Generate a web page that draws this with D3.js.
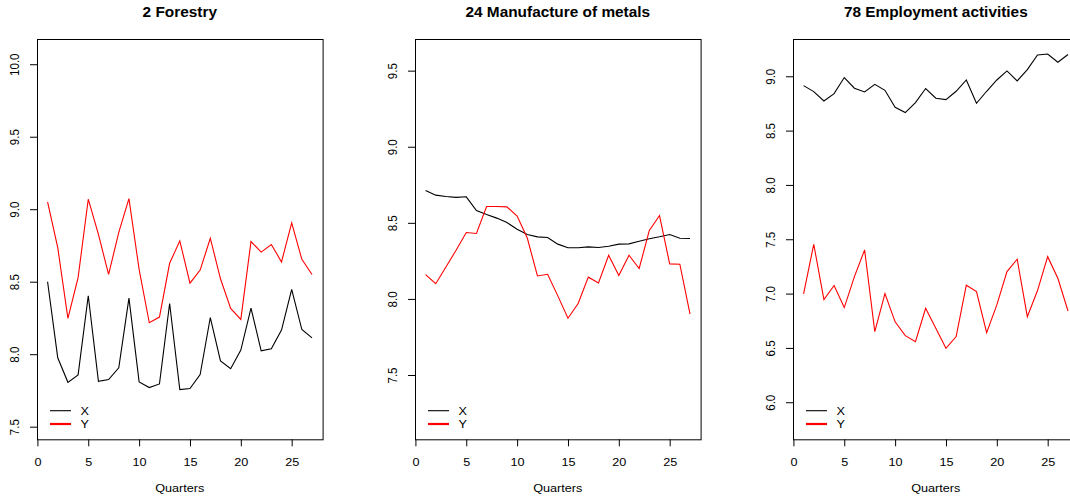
<!DOCTYPE html>
<html>
<head>
<meta charset="utf-8">
<script src="https://cdn.jsdelivr.net/npm/d3@7"></script>
<style>
  body { margin: 0; background: #fff; }
  svg { display: block; font-family: "Liberation Sans", Arial, Helvetica, sans-serif; }
</style>
</head>
<body>
<div id="chart"></div>
<script>
// quarters 1..27
const quarters = d3.range(1, 28);

const titles = ['2 Forestry', '24 Manufacture of metals', '78 Employment activities'];

// panel 1: 2 Forestry
const forestryX = [8.50, 7.975, 7.806, 7.857, 8.403, 7.813, 7.825, 7.906, 8.387, 7.809,
  7.77, 7.795, 8.35, 7.756, 7.763, 7.86, 8.253, 7.954, 7.90, 8.028,
  8.318, 8.023, 8.037, 8.166, 8.447, 8.17, 8.113];
const forestryY = [9.05, 8.735, 8.247, 8.528, 9.069, 8.826, 8.55, 8.84, 9.073, 8.585,
  8.217, 8.256, 8.627, 8.782, 8.49, 8.58, 8.80, 8.52, 8.316, 8.24,
  8.777, 8.704, 8.757, 8.636, 8.906, 8.654, 8.55];

// panel 2: 24 Manufacture of metals
const metalsX = [8.713, 8.682, 8.673, 8.667, 8.671, 8.581, 8.555, 8.531, 8.502, 8.458,
  8.423, 8.408, 8.404, 8.36, 8.336, 8.336, 8.342, 8.338, 8.346, 8.36,
  8.362, 8.379, 8.395, 8.408, 8.423, 8.399, 8.397];
const metalsY = [8.16, 8.10, 8.21, 8.32, 8.436, 8.43, 8.607, 8.607, 8.605, 8.544,
  8.40, 8.151, 8.162, 8.02, 7.873, 7.97, 8.143, 8.105, 8.287, 8.154,
  8.287, 8.20, 8.45, 8.548, 8.23, 8.228, 7.90];

// panel 3: 78 Employment activities
const employX = [8.914, 8.859, 8.773, 8.84, 8.988, 8.89, 8.856, 8.926, 8.871, 8.715,
  8.666, 8.758, 8.887, 8.798, 8.785, 8.862, 8.966, 8.751, 8.862, 8.966,
  9.049, 8.957, 9.061, 9.196, 9.205, 9.129, 9.20];
const employY = [6.997, 7.454, 6.945, 7.074, 6.871, 7.156, 7.402, 6.65, 7.0, 6.74,
  6.613, 6.558, 6.865, 6.68, 6.497, 6.604, 7.077, 7.018, 6.641, 6.896,
  7.202, 7.316, 6.788, 7.028, 7.34, 7.141, 6.84];

// visible y range per panel and tick values
const yRanges = [[7.413, 10.174], [7.0775, 9.708], [5.659, 9.343]];
const yTicks = [[7.5, 8.0, 8.5, 9.0, 9.5, 10.0], [7.5, 8.0, 8.5, 9.0, 9.5], [6.0, 6.5, 7.0, 7.5, 8.0, 8.5, 9.0]];
const xTicks = [0, 5, 10, 15, 20, 25];
const xRange = [-0.04, 28.04];

const seriesX = [forestryX, metalsX, employX];
const seriesY = [forestryY, metalsY, employY];

const W = 1070, H = 498;
const panelLeft = [37, 415, 793];
const pw = 285.6;
const plotTop = 39, plotBottom = 439.3;
const sx = 1.1; // glyphs in the reference are slightly wide

const svg = d3.select('#chart').append('svg')
  .attr('width', W)
  .attr('height', H);

titles.forEach((title, i) => {
  const g = svg.append('g')
    .attr('transform', `translate(${panelLeft[i]},0)`);

  const x = d3.scaleLinear().domain(xRange).range([0, pw]);
  const y = d3.scaleLinear().domain(yRanges[i]).range([plotBottom, plotTop]);

  // x axis
  const xAxis = g.append('g')
    .attr('transform', `translate(0,${plotBottom})`)
    .call(d3.axisBottom(x).tickValues(xTicks).tickSize(7).tickSizeOuter(0));
  xAxis.select('.domain').remove();
  xAxis.selectAll('line').attr('stroke', '#000');
  xAxis.selectAll('text')
    .attr('y', 26.4).attr('dy', 0)
    .attr('transform', `scale(${sx},1)`)
    .attr('fill', '#000')
    .style('font-size', '11.5px');

  // y axis
  const yAxis = g.append('g')
    .call(d3.axisLeft(y).tickValues(yTicks[i]).tickSize(7).tickSizeOuter(0).tickFormat(d3.format('.1f')));
  yAxis.select('.domain').remove();
  yAxis.selectAll('line').attr('stroke', '#000');
  yAxis.selectAll('text')
    .attr('x', 0).attr('y', 0).attr('dy', 0)
    .attr('text-anchor', 'middle')
    .attr('transform', `translate(-17.7,0) scale(${sx},1) rotate(-90)`)
    .attr('fill', '#000')
    .style('font-size', '11.5px');

  // box
  g.append('rect')
    .attr('x', 0.5).attr('y', plotTop + 0.5)
    .attr('width', pw).attr('height', plotBottom - plotTop)
    .attr('fill', 'none')
    .attr('stroke', '#000')
    .attr('stroke-width', 1);

  const line = d3.line()
    .x((d, k) => x(quarters[k]))
    .y(d => y(d));

  g.append('path')
    .datum(seriesX[i])
    .attr('d', line)
    .attr('fill', 'none')
    .attr('stroke', '#000')
    .attr('stroke-width', 1.1);

  g.append('path')
    .datum(seriesY[i])
    .attr('d', line)
    .attr('fill', 'none')
    .attr('stroke', '#ff0000')
    .attr('stroke-width', 1.1);

  // title
  g.append('text')
    .attr('transform', `translate(${pw / 2},16.5) scale(${sx},1)`)
    .attr('text-anchor', 'middle')
    .style('font-size', '14px')
    .style('font-weight', 'bold')
    .text(title);

  // x label
  g.append('text')
    .attr('transform', `translate(${pw / 2},492) scale(${sx},1)`)
    .attr('text-anchor', 'middle')
    .style('font-size', '11.5px')
    .text('Quarters');

  // legend
  const legend = [{label: 'X', color: '#000', w: 1.1, y: 410.7}, {label: 'Y', color: '#ff0000', w: 2.2, y: 424}];
  legend.forEach(l => {
    g.append('line')
      .attr('x1', 13).attr('x2', 34)
      .attr('y1', l.y).attr('y2', l.y)
      .attr('stroke', l.color)
      .attr('stroke-width', l.w);
    g.append('text')
      .attr('transform', `translate(43.5,${l.y + 4.3}) scale(${sx},1)`)
      .style('font-size', '11.5px')
      .text(l.label);
  });
});
</script>
</body>
</html>
